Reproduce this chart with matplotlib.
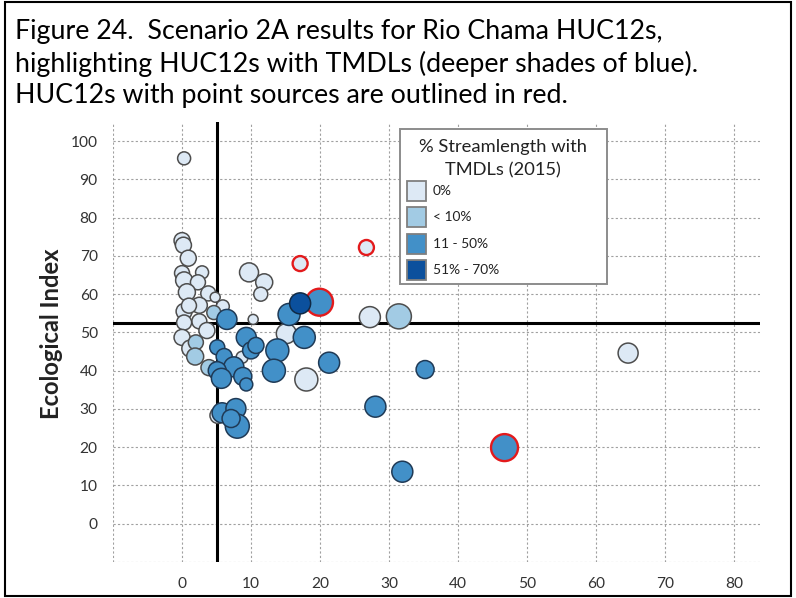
import matplotlib

matplotlib.use("Agg")
import matplotlib.pyplot as plt
from matplotlib.patches import Rectangle

plt.rcParams["font.family"] = ["Lato", "DejaVu Sans"]

title_lines = [
    "Figure 24.  Scenario 2A results for Rio Chama HUC12s,",
    "highlighting HUC12s with TMDLs (deeper shades of blue).",
    "HUC12s with point sources are outlined in red.",
]
y_label = "Ecological Index"
legend_title = ["% Streamlength with", "TMDLs (2015)"]
class_labels = ["0%", "< 10%", "11 - 50%", "51% - 70%"]
class_colors = ["#dde9f5", "#a2cbe4", "#4290c8", "#0b509d"]
class_edges = ["#4d4d4d", "#4d4d4d", "#1f3a56", "#102a45"]

x_ticks = [-10, 0, 10, 20, 30, 40, 50, 60, 70, 80]
y_ticks = [-10, 0, 10, 20, 30, 40, 50, 60, 70, 80, 90, 100]
x_threshold = 5
y_threshold = 52.4

# HUC12 results, one entry per bubble
x_vals = [
    0.3, 0.0, 0.2, 0.9, 2.9, 0.0, 0.3, 2.3, 0.7, 3.8, 4.8, 2.5, 0.3, 5.9, 2.5, 0.3,
    3.6, 0.0, 1.2, 8.7, 9.7, 11.9, 11.4, 10.3, 15.1, 18.0, 27.2, 64.6, 5.2, 17.1, 26.7, 1.0,
    4.6, 2.0, 1.9, 3.9, 31.4,
    6.5, 15.5, 19.9, 17.7, 13.8, 13.3, 21.3, 35.2, 28.0, 31.9, 46.7, 5.1, 6.1, 9.3, 10.0,
    10.7, 7.5, 5.1, 5.7, 8.8, 9.3, 5.8, 7.8, 8.0, 7.1,
    17.1,
]
eco_index = [
    95.5, 74.0, 72.8, 69.4, 65.7, 65.5, 63.6, 63.1, 60.5, 60.2, 59.2, 57.1, 55.5, 56.8, 52.9, 52.6,
    50.5, 48.7, 45.8, 43.5, 65.7, 63.1, 60.0, 53.4, 49.7, 37.7, 54.0, 44.6, 28.3, 68.0, 72.2, 57.0,
    55.2, 47.4, 43.7, 40.8, 54.2,
    53.4, 54.7, 57.9, 48.7, 45.3, 40.0, 42.1, 40.3, 30.6, 13.6, 19.9, 46.1, 43.7, 48.7, 45.3,
    46.6, 41.0, 40.0, 38.0, 38.5, 36.4, 29.0, 30.1, 25.5, 27.5,
    57.6,
]
bubble = [
    1.3, 1.6, 1.6, 1.6, 1.3, 1.5, 1.7, 1.5, 1.7, 1.5, 1.0, 1.6, 1.6, 1.3, 1.5, 1.5,
    1.6, 1.6, 1.7, 1.2, 1.9, 1.7, 1.4, 1.0, 2.0, 2.3, 2.1, 2.0, 1.6, 1.5, 1.5, 1.5,
    1.4, 1.5, 1.7, 1.6, 2.5,
    2.0, 2.2, 2.7, 2.2, 2.3, 2.3, 2.1, 1.8, 2.1, 2.1, 2.7, 1.5, 1.6, 2.0, 1.7,
    1.6, 2.0, 1.8, 2.0, 1.8, 1.3, 2.0, 2.0, 2.4, 1.8,
    2.1,
]
tmdl_class = [0] * 32 + [1] * 5 + [2] * 25 + [3]
point_source = (
    [False] * 29 + [True, True, False]
    + [False] * 5
    + [False, False, True] + [False] * 7 + [True] + [False] * 14
    + [False]
)

W, H = 796, 598


def fx(px):
    return px / W


def fy(py):
    return 1 - py / H


fig = plt.figure(figsize=(W / 100, H / 100), dpi=100)
renderer = fig.canvas.get_renderer()


def fitted_size(text, target_px, weight="normal"):
    # scale a font size so that the text spans target_px, since Calibri isn't here
    probe = fig.text(0, 0, text, fontsize=10, fontweight=weight)
    w = probe.get_window_extent(renderer).width
    probe.remove()
    return 10 * target_px / w


title_size = fitted_size(title_lines[1], 680)
tick_size = fitted_size("100", 27)
ylabel_size = fitted_size(y_label, 172, "bold")
leg_title_size = fitted_size(legend_title[0], 168)
leg_size = fitted_size(class_labels[2], 55)

ax = fig.add_axes([fx(113), fy(562), 647 / W, 440 / H])

sizes = [(b * 10 * 0.72) ** 2 for b in bubble]
faces = [class_colors[c] for c in tmdl_class]
edges = ["#e31a1c" if ps else class_edges[c] for c, ps in zip(tmdl_class, point_source)]
widths = [1.7 if ps else 1.1 for ps in point_source]
ax.scatter(x_vals, eco_index, s=sizes, c=faces, edgecolors=edges, linewidths=widths, zorder=3)

ax.axvline(x_threshold, color="black", lw=2.2, zorder=2)
ax.axhline(y_threshold, color="black", lw=2.2, zorder=2)

ax.set_xlim(-10, 83.7)
ax.set_ylim(-10, 105)
ax.set_xticks(x_ticks, ["" if t < 0 else str(t) for t in x_ticks])
ax.set_yticks(y_ticks, ["" if t < 0 else str(t) for t in y_ticks])
ax.tick_params(length=0, labelsize=tick_size, labelcolor="#333333", pad=11)
ax.grid(color="#a0a0a0", ls=(0, (2, 2)), lw=0.8)
ax.set_axisbelow(True)
for s in ax.spines.values():
    s.set_visible(False)

ax.set_ylabel(y_label, fontsize=ylabel_size, fontweight="bold", color="#222222")
ax.yaxis.set_label_coords((63 - 113) / 647, (562 - 334) / 440)

# legend box, laid out in pixels to match the original
fig.add_artist(Rectangle((fx(400), fy(284)), 207 / W, 155 / H, transform=fig.transFigure,
                         facecolor="white", edgecolor="#8c8c8c", lw=1.4, zorder=4))
for i, line in enumerate(legend_title):
    fig.text(fx(503), fy(147 + 23 * i), line, fontsize=leg_title_size, ha="center", va="center",
             color="#222222", zorder=5)
for i, (label, color) in enumerate(zip(class_labels, class_colors)):
    top = 181 + 26.3 * i
    fig.add_artist(Rectangle((fx(407), fy(top + 20)), 19 / W, 20 / H, transform=fig.transFigure,
                             facecolor=color, edgecolor="#7f7f7f", lw=1.3, zorder=5))
    fig.text(fx(433), fy(top + 10), label, fontsize=leg_size, ha="left", va="center",
             color="#222222", zorder=5)

for i, line in enumerate(title_lines):
    fig.text(fx(15), fy(32 + 31.5 * i), line, fontsize=title_size, va="center", ha="left")

fig.add_artist(Rectangle((fx(5), fy(596)), 786 / W, 594 / H, transform=fig.transFigure,
                         fill=False, edgecolor="black", lw=1.5))

fig.savefig("out.png", dpi=100)
